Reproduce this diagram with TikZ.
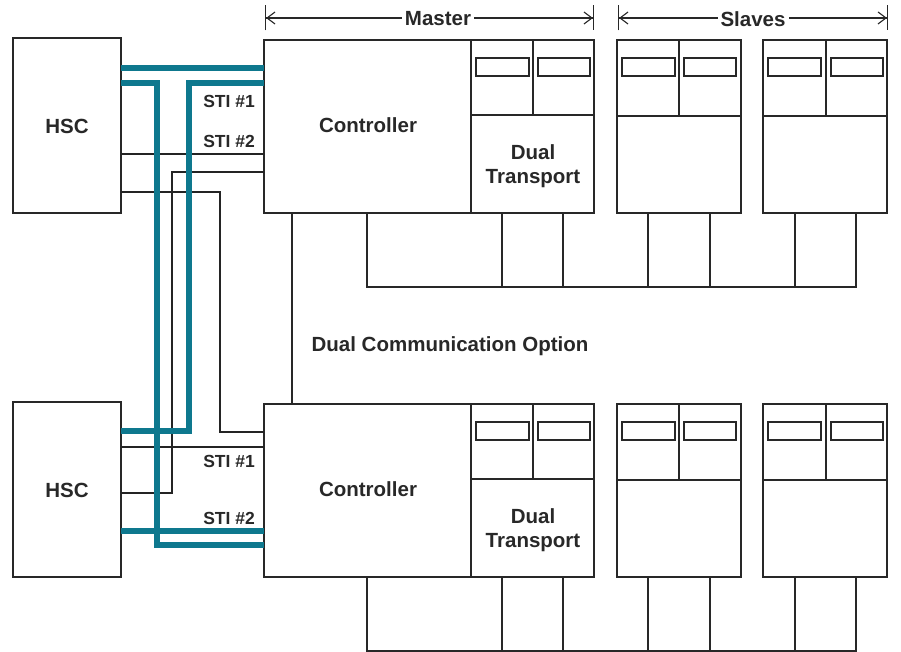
\documentclass[tikz,border=0pt]{standalone}
\usepackage{fontspec}
\setmainfont{Liberation Sans}
\usetikzlibrary{arrows.meta}
\definecolor{teal1}{RGB}{14,120,142}
\definecolor{ink}{RGB}{40,40,40}
\tikzset{
  box/.style={draw=ink, line width=1.4pt, anchor=north west, inner sep=0pt, outer sep=0pt},
  slot/.style={draw=ink, line width=1.4pt},
  wire/.style={draw=ink!90!black, line width=1.7pt},
  twire/.style={draw=teal1, line width=5.5pt},
  bus/.style={draw=ink, line width=1.4pt},
  lbl/.style={text=ink, font=\bfseries\fontsize{20.5}{22}\selectfont, inner sep=0pt},
  sti/.style={text=ink, font=\bfseries\fontsize{17.5}{19}\selectfont, inner sep=0pt, anchor=east},
  dimlbl/.style={text=ink, font=\bfseries\fontsize{20.5}{22}\selectfont, fill=white, inner sep=3pt},
  dimline/.style={draw=ink, line width=1.1pt, {Bar[width=25pt]Straight Barb[length=8pt,width=12pt]}-{Straight Barb[length=8pt,width=12pt]Bar[width=25pt]}},
}
\newcommand\unitrow[2]{%
  \begin{scope}[yshift=#2]
    \node[box, minimum width=108pt, minimum height=175pt] (hsc#1) at (13,38) {};
    \node[lbl] (hsct#1) at (67,126) {HSC};
    \node[box, minimum width=207pt, minimum height=173pt] (ctr#1) at (264,40) {};
    \node[lbl] (ctrt#1) at (368,125) {Controller};
    \node[box, minimum width=123pt, minimum height=173pt] (tr#1) at (471,40) {};
    \draw[slot] (471,115) -- (594,115) (533,40) -- (533,115);
    \draw[slot] (476,58) rectangle (529,76) (538,58) rectangle (590,76);
    \node[lbl] (trt#1) at (533,152) {Dual};
    \node[lbl] (trtt#1) at (533,179) {Transport};
    \node[box, minimum width=124pt, minimum height=173pt] (sa#1) at (617,40) {};
    \draw[slot] (617,116) -- (741,116) (679,40) -- (679,116);
    \draw[slot] (622,58) rectangle (675,76) (684,58) rectangle (736,76);
    \node[box, minimum width=124pt, minimum height=173pt] (sb#1) at (763,40) {};
    \draw[slot] (763,116) -- (887,116) (826,40) -- (826,116);
    \draw[slot] (768,58) rectangle (821,76) (831,58) rectangle (883,76);
    \coordinate (busl#1) at (367,287);
    \coordinate (busr#1) at (856,287);
    \draw[bus] (ctr#1.south -| busl#1) -- (busl#1) -- (busr#1) -- (sb#1.south -| busr#1);
    \draw[bus] (tr#1.south -| 502,0) -- (502,287) (tr#1.south -| 563,0) -- (563,287);
    \draw[bus] (sa#1.south -| 648,0) -- (648,287) (sa#1.south -| 710,0) -- (710,287);
    \draw[bus] (sb#1.south -| 795,0) -- (795,287);
  \end{scope}}
\begin{document}
\begin{tikzpicture}[x=1pt, y=-1pt]
  \useasboundingbox (0,0) rectangle (901,652);
  \fill[white] (0,0) rectangle (901,652);
  \unitrow{A}{0pt}
  \unitrow{B}{-364pt}
  % dimension lines
  \coordinate (mL) at (265,18); \coordinate (mR) at (594,18);
  \coordinate (sL) at (618,18); \coordinate (sR) at (888,18);
  \draw[dimline] (mL) -- (mR);
  \draw[dimline] (sL) -- (sR);
  \node[dimlbl] (master) at (438,19) {Master};
  \node[dimlbl] (slaves) at (753,19) {Slaves};
  % link between controllers
  \draw[bus] (ctrA.south -| 292,0) -- (ctrB.north -| 292,0);
  \node[lbl] (dco) at (450,346) {Dual Communication Option};
  % black wires
  \draw[wire] (hscA.east |- 0,154) -- (ctrA.west |- 0,154);
  \draw[wire] (ctrA.west |- 0,172) -| (172,493) -- (hscB.east |- 0,493);
  \draw[wire] (hscA.east |- 0,192) -| (220,432) -- (ctrB.west |- 0,432);
  \draw[wire] (hscB.east |- 0,447) -- (ctrB.west |- 0,447);
  % teal wires
  \draw[twire] (hscA.east |- 0,68) -- (ctrA.west |- 0,68);
  \draw[twire] (hscA.east |- 0,83) -| (157,545) -- (ctrB.west |- 0,545);
  \draw[twire] (ctrA.west |- 0,83) -| (189,431) -- (hscB.east |- 0,431);
  \draw[twire] (hscB.east |- 0,531) -- (ctrB.west |- 0,531);
  % STI labels
  \node[sti] (s1a) at (255,101) {STI \#1};
  \node[sti] (s2a) at (255,141) {STI \#2};
  \node[sti] (s1b) at (255,461) {STI \#1};
  \node[sti] (s2b) at (255,518) {STI \#2};
\end{tikzpicture}
\end{document}
